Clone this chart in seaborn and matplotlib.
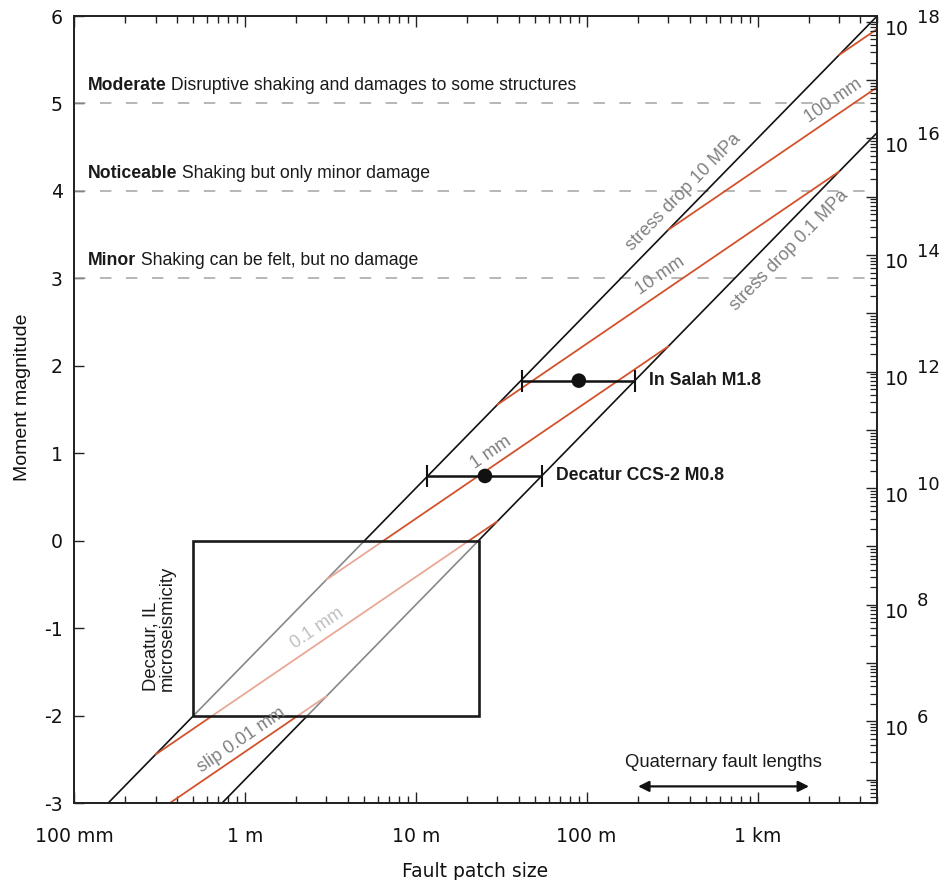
import numpy as np
import pandas as pd
import matplotlib
matplotlib.use("Agg")
import matplotlib.pyplot as plt
import matplotlib.transforms as mtransforms
from matplotlib.patches import Rectangle
from matplotlib.ticker import LogLocator, NullFormatter, NullLocator, FuncFormatter
import seaborn as sns

# ---------------- data ----------------
stress_drop_mpa = [10.0, 0.1]
slip_mm = [0.01, 0.1, 1.0, 10.0, 100.0, 1000.0]
shear_modulus_gpa = 30.0

x_range_m = [0.1, 5000.0]
y_range_mw = [-3, 6]
x_tick_m = [0.1, 1, 10, 100, 1000]
x_tick_labels = ["100 mm", "1 m", "10 m", "100 m", "1 km"]
y_ticks = [-3, -2, -1, 0, 1, 2, 3, 4, 5, 6]
moment_exponents = [6, 8, 10, 12, 14, 16, 18]

shaking_levels = [5, 4, 3]
shaking_titles = ["Moderate", "Noticeable", "Minor"]
shaking_texts = ["Disruptive shaking and damages to some structures",
                 "Shaking but only minor damage",
                 "Shaking can be felt, but no damage"]

event_names = ["In Salah M1.8", "Decatur CCS-2 M0.8"]
event_size_m = [90.0, 25.4]
event_size_low_m = [41.7, 11.7]
event_size_high_m = [193.0, 54.6]
event_mw = [1.83, 0.74]

decatur_box_size_m = [0.5, 23.3]
decatur_box_mw = [-2.0, 0.0]

quaternary_lengths_m = [200.0, 2000.0]
quaternary_mw = -2.81

# ---------------- helpers ----------------
MU = shear_modulus_gpa * 1e9


def mw_from_m0(m0):
    return (2.0 / 3.0) * (np.log10(m0) - 9.1)


def mw_stress(L, ds_mpa):
    return mw_from_m0(ds_mpa * 1e6 * np.asarray(L) ** 3)


def mw_slip(L, d_mm):
    return mw_from_m0(MU * np.asarray(L) ** 2 * d_mm * 1e-3)


rows = []
for ds in stress_drop_mpa:
    for L in x_range_m:
        rows.append(dict(line=f"sd{ds}", L=L, Mw=float(mw_stress(L, ds))))
df_stress = pd.DataFrame(rows)

rows = []
for d in slip_mm:
    for ds in stress_drop_mpa:
        L = MU * d * 1e-3 / (ds * 1e6)
        rows.append(dict(line=f"slip{d}", L=L, Mw=float(mw_slip(L, d))))
df_slip = pd.DataFrame(rows)

# ---------------- style ----------------
sns.set_style("ticks")
plt.rcParams["font.family"] = ["Liberation Sans", "DejaVu Sans"]
plt.rcParams["axes.unicode_minus"] = False
TICKFONT = "DejaVu Sans"
RED = "#d2522c"
GRAY_TXT = "#808080"

fig = plt.figure(figsize=(9.41, 8.80), dpi=100)
ax = fig.add_axes([74 / 941, 1 - 803 / 880, (877 - 74) / 941, (803 - 16) / 880])
ax.set_xscale("log")
ax.set_xlim(*x_range_m)
ax.set_ylim(*y_range_mw)

sns.lineplot(data=df_stress, x="L", y="Mw", units="line", estimator=None, sort=False,
             color="#111111", lw=1.2, ax=ax, legend=False, zorder=2)
sns.lineplot(data=df_slip, x="L", y="Mw", units="line", estimator=None, sort=False,
             color=RED, lw=1.3, ax=ax, legend=False, zorder=2)

# shaking levels
for lvl, title, txt in zip(shaking_levels, shaking_titles, shaking_texts):
    ax.axhline(lvl, color="#a3a3a3", lw=1.1, dashes=(7.5, 9.5), zorder=1)
    t = ax.text(0.12, lvl + 0.15, title, fontweight="bold", fontsize=12.7,
                ha="left", va="baseline", color="#1a1a1a")
    ax.annotate(" " + txt, xy=(1, 0), xycoords=t, ha="left", va="bottom",
                fontsize=12.7, color="#1a1a1a")

# Decatur microseismicity box (semi-transparent veil over lines)
bx0, bx1 = decatur_box_size_m
by0, by1 = decatur_box_mw
ax.add_patch(Rectangle((bx0, by0), bx1 - bx0, by1 - by0, facecolor=(1, 1, 1, 0.5),
                       edgecolor="none", zorder=3))
ax.add_patch(Rectangle((bx0, by0), bx1 - bx0, by1 - by0, fill=False,
                       edgecolor="#1a1a1a", lw=1.9, zorder=4))
ax.text(0.315, -1.0, "Decatur, IL\nmicroseismicity", rotation=90, ha="center",
        va="center", multialignment="left", fontsize=13.3, linespacing=1.0, color="#1a1a1a")


# line labels
def screen_angle(L0, m0, L1, m1):
    p0 = ax.transData.transform((L0, m0))
    p1 = ax.transData.transform((L1, m1))
    return np.degrees(np.arctan2(p1[1] - p0[1], p1[0] - p0[0]))


label_specs = [
    ("stress drop 10 MPa", "sd", 10.0, 2.630, 11.0, 5),
    ("stress drop 0.1 MPa", "sd", 0.1, 3.103, -14.0, 5),
    ("100 mm", "slip", 100.0, 3.490, 9.5, 5),
    ("10 mm", "slip", 10.0, 2.477, 10.5, 5),
    ("1 mm", "slip", 1.0, 1.481, 9.0, 5),
    ("0.1 mm", "slip", 0.1, 0.467, 9.5, 2.5),
    ("slip 0.01 mm", "slip", 0.01, 0.019, 8.5, 5),
]
for text, kind, val, logL, off, z in label_specs:
    L = 10 ** logL
    f = (lambda x: mw_stress(x, val)) if kind == "sd" else (lambda x: mw_slip(x, val))
    ang = screen_angle(L, f(L), L * 2, f(L * 2))
    th = np.radians(ang)
    ax.annotate(text, xy=(L, float(f(L))), xytext=(-np.sin(th) * off, np.cos(th) * off),
                textcoords="offset points", rotation=ang, rotation_mode="anchor",
                ha="center", va="center", fontsize=13, color=GRAY_TXT, zorder=z)

# events with error bars
xerr = [np.array(event_size_m) - np.array(event_size_low_m),
        np.array(event_size_high_m) - np.array(event_size_m)]
ax.errorbar(event_size_m, event_mw, xerr=xerr, fmt="none", ecolor="#111111",
            elinewidth=1.8, capsize=8, capthick=1.5, zorder=6)
sns.scatterplot(x=event_size_m, y=event_mw, color="#111111", s=110, edgecolor="none",
                ax=ax, zorder=7, legend=False)
for name, hi, mw in zip(event_names, event_size_high_m, event_mw):
    ax.annotate(name, xy=(hi, mw), xytext=(10, 0), textcoords="offset points",
                ha="left", va="center", fontsize=12.7, fontweight="bold", color="#1a1a1a")

# Quaternary fault lengths
ax.annotate("", xy=(quaternary_lengths_m[1], quaternary_mw),
            xytext=(quaternary_lengths_m[0], quaternary_mw),
            arrowprops=dict(arrowstyle="<|-|>", color="#111111", lw=1.6,
                            mutation_scale=16, shrinkA=0, shrinkB=0))
ax.text(np.sqrt(quaternary_lengths_m[0] * quaternary_lengths_m[1]), quaternary_mw + 0.27,
        "Quaternary fault lengths", ha="center", va="center", fontsize=13.3, color="#1a1a1a")

# ---------------- axes / ticks ----------------
ax.set_xticks(x_tick_m, x_tick_labels, fontfamily=TICKFONT)
ax.xaxis.set_minor_locator(LogLocator(base=10, subs=np.arange(2, 10), numticks=100))
ax.xaxis.set_minor_formatter(NullFormatter())
ax.set_yticks(y_ticks, [str(v) for v in y_ticks], fontfamily=TICKFONT)
ax.yaxis.set_minor_locator(NullLocator())
ax.tick_params(axis="x", which="both", direction="in", top=True, bottom=True,
               labelsize=13.6, pad=17, width=1.0, color="#222222", labelcolor="#111111")
ax.tick_params(axis="x", which="major", length=8)
ax.tick_params(axis="x", which="minor", length=5)
ax.tick_params(axis="y", which="major", direction="in", left=True, right=False,
               length=7, width=1.0, pad=8, labelsize=13.6, color="#222222",
               labelcolor="#111111")
ax.set_xlabel("Fault patch size", fontsize=13.5, fontfamily=TICKFONT, color="#111111")
ax.xaxis.set_label_coords(0.5, -0.075)
ax.set_ylabel("Moment magnitude", fontsize=14, color="#111111")
ax.yaxis.set_label_coords(-0.054, 0.515)
for sp in ax.spines.values():
    sp.set_linewidth(1.3)
    sp.set_color("#222222")

# right axis: seismic moment
ax2 = ax.twinx()
ax2.set_yscale("log")
ax2.set_ylim(10 ** (1.5 * y_range_mw[0] + 9.1), 10 ** (1.5 * y_range_mw[1] + 9.1))
ax2.yaxis.set_major_locator(LogLocator(base=10, numticks=40))
ax2.yaxis.set_minor_locator(LogLocator(base=10, subs=np.arange(2, 10), numticks=200))
ax2.yaxis.set_minor_formatter(NullFormatter())
ax2.yaxis.set_major_formatter(FuncFormatter(
    lambda v, p: "10" if int(round(np.log10(v))) in moment_exponents else ""))
ax2.tick_params(axis="y", which="major", direction="in", length=8, width=1.0, pad=6,
                labelsize=13.6, color="#222222", labelcolor="#111111")
ax2.tick_params(axis="y", which="minor", direction="in", length=5, width=0.9, color="#222222")
for sp in ax2.spines.values():
    sp.set_linewidth(1.3)
    sp.set_color("#222222")
shift = mtransforms.ScaledTranslation(0, -4.3 / 72, fig.dpi_scale_trans)
for lab in ax2.get_yticklabels():
    lab.set_fontfamily(TICKFONT)
    lab.set_transform(lab.get_transform() + shift)
for k in moment_exponents:
    ax2.annotate(str(k), xy=(1, 10.0 ** k), xycoords=ax2.get_yaxis_transform(),
                 xytext=(28.5, 2.5), textcoords="offset points", ha="left", va="center",
                 fontsize=13, fontfamily=TICKFONT, color="#111111", annotation_clip=False)

fig.savefig("out.png", dpi=100)
